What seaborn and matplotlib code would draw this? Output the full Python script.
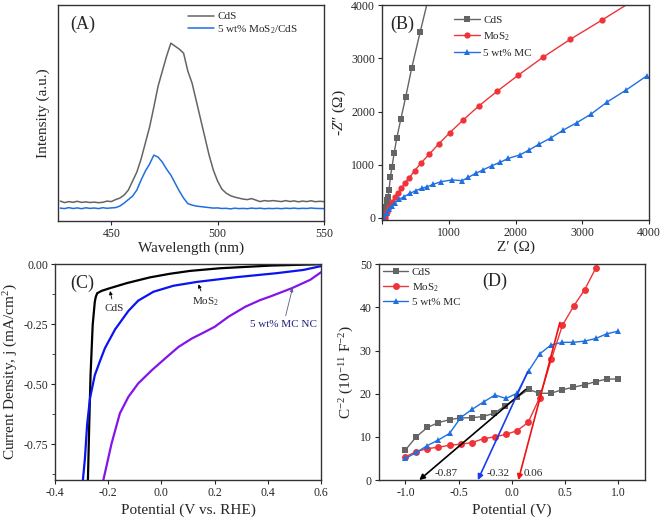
import matplotlib
matplotlib.use("Agg")
import matplotlib.pyplot as plt
import seaborn as sns
from matplotlib.ticker import MultipleLocator, AutoMinorLocator, FormatStrFormatter

# ---- (A) PL spectra ----
wavelength = [426, 428, 430, 432, 434, 436, 438, 440, 442, 444,
              446, 448, 450, 452, 454, 456, 458, 460, 462, 464,
              466, 468, 470, 472, 474, 476, 478, 480, 482, 484,
              486, 488, 490, 492, 494, 496, 498, 500, 502, 504,
              506, 508, 510, 512, 514, 516, 518, 520, 522, 524,
              526, 528, 530, 532, 534, 536, 538, 540, 542, 544,
              546, 548, 550]
pl_cds = [20, 18.5, 19.5, 18.8, 19.8, 18.7, 19.2, 18.6, 19, 18.4,
          18.8, 20, 19.5, 21.5, 23, 26, 31, 40, 49, 62,
          78, 94, 114, 135, 150, 165, 178, 175, 172, 168,
          150, 138, 120, 102, 84, 66, 51, 40, 32, 28,
          25.5, 24, 23, 22, 21.5, 22.5, 21, 19.5, 20.5, 20,
          20.5, 20, 19.5, 20.5, 19.6, 20.2, 19.3, 20, 19.5, 20.3,
          19.4, 19.8, 19.5]
pl_mc = [13, 12.5, 13.5, 12.6, 13.2, 12.4, 13.3, 12.7, 13.1, 12.5,
         13.4, 12.8, 13.2, 13.5, 15, 18, 21.5, 25, 31, 41,
         50, 57, 66, 64, 59, 52, 46, 38, 30, 23,
         17.5, 16, 15, 14.5, 14, 13.5, 13, 13.2, 12.6, 12.8,
         12.2, 12.9, 12.5, 12.7, 12.4, 13, 12.6, 12.9, 12.4, 12.7,
         12.5, 12.8, 12.4, 12.9, 12.6, 13, 12.5, 12.8, 12.6, 13.1,
         12.7, 12.6, 12.5]

# ---- (B) Nyquist ----
zre_cds = [30, 45, 60, 70, 80, 90, 105, 125, 150, 180, 220, 280, 355, 445, 569, 700]
zim_cds = [40, 110, 200, 300, 340, 400, 526, 776, 964, 1215, 1497, 1853, 2278, 2823, 3487, 4160]
zre_mos2 = [45, 50, 70, 110, 155, 195, 240, 289, 339, 409, 489, 589, 709, 849, 1014,
            1213, 1448, 1727, 2042, 2407, 2816, 3291, 3780]
zim_mos2 = [-6, 38, 119, 213, 306, 388, 463, 557, 651, 757, 889, 1039, 1202, 1390, 1602,
            1840, 2103, 2385, 2686, 3018, 3356, 3718, 4100]
zre_mc = [30, 70, 105, 145, 195, 255, 330, 419, 505, 595, 679, 769, 884, 1049, 1203, 1293,
          1404, 1518, 1643, 1768, 1892, 2062, 2202, 2357, 2532, 2716, 2916, 3131, 3376,
          3655, 3966]
zim_mc = [38, 100, 163, 225, 287, 351, 400, 463, 513, 557, 588, 633, 682, 714, 701, 764,
          839, 907, 982, 1046, 1121, 1183, 1277, 1390, 1508, 1653, 1790, 1953, 2184,
          2404, 2672]

# ---- (C) LSV ----
v_cds = [-0.277, -0.271, -0.266, -0.258, -0.250, -0.246, -0.241, -0.224, -0.193, -0.130,
         -0.043, 0.032, 0.108, 0.22, 0.408, 0.6]
j_cds = [-0.95, -0.67, -0.461, -0.253, -0.156, -0.135, -0.121, -0.111, -0.100, -0.079,
         -0.055, -0.04, -0.028, -0.017, -0.006, 0.0]
v_mos2 = [-0.299, -0.287, -0.279, -0.268, -0.25, -0.231, -0.212, -0.174, -0.124, -0.087,
          -0.030, 0.045, 0.133, 0.283, 0.433, 0.533, 0.6]
j_mos2 = [-0.95, -0.808, -0.67, -0.558, -0.4625, -0.405, -0.35, -0.272, -0.195, -0.152,
          -0.115, -0.09, -0.074, -0.054, -0.0375, -0.024, -0.008]
v_mc = [-0.222, -0.218, -0.187, -0.156, -0.124, -0.087, -0.036, 0.014, 0.064, 0.114,
        0.164, 0.2, 0.252, 0.314, 0.37, 0.408, 0.49, 0.559, 0.6]
j_mc = [-0.95, -0.9, -0.747, -0.622, -0.553, -0.497, -0.442, -0.393, -0.345, -0.310,
        -0.282, -0.261, -0.219, -0.178, -0.15, -0.135, -0.10, -0.065, -0.033]

# ---- (D) Mott-Schottky ----
ms_v_cds = [-1.0, -0.897, -0.793, -0.69, -0.586, -0.483, -0.376, -0.273, -0.166, -0.063,
            0.05, 0.157, 0.257, 0.364, 0.47, 0.577, 0.686, 0.787, 0.89, 1.0]
ms_c_cds = [6.96, 10.05, 12.2, 13.3, 14.0, 14.4, 14.45, 14.7, 15.5, 17.2,
            19.2, 21.0, 20.1, 20.1, 20.9, 21.5, 22.1, 22.8, 23.4, 23.4]
ms_v_mos2 = [-1.0, -0.897, -0.793, -0.69, -0.58, -0.48, -0.373, -0.266, -0.16, -0.056,
             0.047, 0.153, 0.26, 0.37, 0.473, 0.58, 0.683, 0.787]
ms_c_mos2 = [5.4, 6.6, 7.3, 7.6, 8.1, 8.3, 8.7, 9.6, 10.0, 10.6,
             11.4, 13.4, 19.1, 28.0, 35.8, 40.3, 44.1, 49.1]
ms_v_mc = [-1.0, -0.897, -0.793, -0.69, -0.586, -0.48, -0.373, -0.266, -0.16, -0.056,
           0.047, 0.157, 0.26, 0.367, 0.473, 0.577, 0.686, 0.787, 0.893, 1.0]
ms_c_mc = [5.0, 6.4, 8.0, 9.3, 10.8, 14.5, 16.4, 18.1, 19.7, 18.9,
           20.1, 25.3, 29.2, 31.3, 31.9, 31.9, 32.2, 32.8, 33.9, 34.5]
fb_values = [-0.87, -0.32, 0.06]
tangent_top_v = [0.13, 0.148, 0.45]
tangent_top_c = [21.0, 25.1, 36.5]

sns.set_style("ticks")
plt.rcParams['font.family'] = ['Liberation Serif', 'DejaVu Serif']
plt.rcParams['mathtext.fontset'] = 'custom'
plt.rcParams['mathtext.rm'] = 'Liberation Serif'
plt.rcParams['mathtext.it'] = 'Liberation Serif:italic'
plt.rcParams['mathtext.bf'] = 'Liberation Serif:bold'
plt.rcParams['axes.unicode_minus'] = False
plt.rcParams['xtick.direction'] = 'out'
plt.rcParams['ytick.direction'] = 'out'
plt.rcParams['axes.edgecolor'] = '#333333'
plt.rcParams['axes.linewidth'] = 1.0

fig = plt.figure(figsize=(6.61, 5.19), dpi=100)
axA = fig.add_axes([0.088, 0.574, 0.402, 0.416])
axB = fig.add_axes([0.578, 0.576, 0.404, 0.414])
axC = fig.add_axes([0.083, 0.075, 0.403, 0.416])
axD = fig.add_axes([0.573, 0.075, 0.403, 0.416])

tick_fs = 8.5
lab_fs = 11
leg_fs = 8

gray = '#646464'
red = '#ef3338'
blue = '#1f6fe0'

# (A)
sns.lineplot(x=wavelength, y=pl_cds, ax=axA, color=gray, lw=1.1, label='CdS')
sns.lineplot(x=wavelength, y=pl_mc, ax=axA, color=blue, lw=1.1, label='5 wt% MoS$_2$/CdS')
axA.set_xlim(425, 550)
axA.set_ylim(0, 216)
axA.set_yticks([])
axA.xaxis.set_major_locator(MultipleLocator(50))
axA.set_xlabel('Wavelength (nm)', fontsize=lab_fs, labelpad=1)
axA.set_ylabel('Intensity (a.u.)', fontsize=lab_fs, labelpad=6)
axA.text(0.093, 0.912, '(A)', transform=axA.transAxes, fontsize=13, ha='center', va='center')
axA.legend(loc='upper left', bbox_to_anchor=(0.49, 0.97), frameon=False, fontsize=leg_fs,
           handlelength=2.3, handletextpad=0.3, labelspacing=0.15, borderpad=0, borderaxespad=0)

# (B)
sns.lineplot(x=zre_cds, y=zim_cds, ax=axB, color=gray, lw=1.0, marker='s', markersize=4,
             markeredgewidth=0, label='CdS')
sns.lineplot(x=zre_mos2, y=zim_mos2, ax=axB, color=red, lw=1.0, marker='o', markersize=4.5,
             markeredgewidth=0, label='MoS$_2$')
sns.lineplot(x=zre_mc, y=zim_mc, ax=axB, color=blue, lw=1.0, marker='^', markersize=4.5,
             markeredgewidth=0, label='5 wt% MC')
axB.set_xlim(0, 4000)
axB.set_ylim(-40, 4000)
axB.set_xticks([0, 1000, 2000, 3000, 4000])
axB.set_xticklabels(['', '1000', '2000', '3000', '4000'])
axB.set_yticks([0, 1000, 2000, 3000, 4000])
axB.set_xlabel('Z\u2032 (\u03a9)', fontsize=lab_fs, labelpad=1)
axB.set_ylabel('-$\\mathit{Z}$\u2033 (\u03a9)', fontsize=lab_fs, labelpad=2)
axB.text(0.074, 0.911, '(B)', transform=axB.transAxes, fontsize=13, ha='center', va='center')
axB.legend(loc='upper left', bbox_to_anchor=(0.27, 0.955), frameon=False, fontsize=leg_fs,
           handlelength=2.3, handletextpad=0.3, labelspacing=0.5, borderpad=0, borderaxespad=0)

# (C)
sns.lineplot(x=v_cds, y=j_cds, ax=axC, color='black', lw=1.6, sort=False)
sns.lineplot(x=v_mos2, y=j_mos2, ax=axC, color='#0a14f0', lw=1.6, sort=False)
sns.lineplot(x=v_mc, y=j_mc, ax=axC, color='#8414ea', lw=1.6, sort=False)
axC.set_xlim(-0.4, 0.6)
axC.set_ylim(-0.9, 0.0)
axC.xaxis.set_major_locator(MultipleLocator(0.2))
axC.yaxis.set_major_locator(MultipleLocator(0.25))
axC.yaxis.set_minor_locator(AutoMinorLocator(2))
axC.xaxis.set_major_formatter(FormatStrFormatter('%.1f'))
axC.yaxis.set_major_formatter(FormatStrFormatter('%.2f'))
axC.set_xlabel('Potential (V vs. RHE)', fontsize=lab_fs, labelpad=3)
axC.set_ylabel('Current Density, j (mA/cm$^2$)', fontsize=lab_fs, labelpad=2)
axC.text(0.103, 0.912, '(C)', transform=axC.transAxes, fontsize=13, ha='center', va='center')
arrow_k = dict(arrowstyle='-|>', lw=0.6, mutation_scale=5, color='black', shrinkA=1, shrinkB=0)
axC.annotate('CdS', xy=(-0.193, -0.112), xytext=(-0.178, -0.183), fontsize=leg_fs,
             ha='center', va='center', arrowprops=arrow_k)
axC.annotate('MoS$_2$', xy=(0.139, -0.084), xytext=(0.164, -0.157), fontsize=leg_fs,
             ha='center', va='center', arrowprops=arrow_k)
axC.annotate('5 wt% MC NC', xy=(0.492, -0.10), xytext=(0.458, -0.253), fontsize=leg_fs,
             ha='center', va='center', color='#1c1c7a',
             arrowprops=dict(arrowstyle='-|>', lw=0.6, mutation_scale=5, color='#5a5a8c',
                             shrinkA=1, shrinkB=0))

# (D)
sns.lineplot(x=ms_v_cds, y=ms_c_cds, ax=axD, color=gray, lw=1.0, marker='s', markersize=4.5,
             markeredgewidth=0, label='CdS')
sns.lineplot(x=ms_v_mos2, y=ms_c_mos2, ax=axD, color=red, lw=1.0, marker='o', markersize=5,
             markeredgewidth=0, label='MoS$_2$')
sns.lineplot(x=ms_v_mc, y=ms_c_mc, ax=axD, color=blue, lw=1.0, marker='^', markersize=5,
             markeredgewidth=0, label='5 wt% MC')
for fb, tv, tc, col in zip(fb_values, tangent_top_v, tangent_top_c, ['black', '#1a3cf0', '#f01010']):
    axD.annotate('', xy=(fb, 0), xytext=(tv, tc),
                 arrowprops=dict(arrowstyle='-|>', lw=1.2, mutation_scale=8, color=col,
                                 shrinkA=0, shrinkB=0))
axD.text(-0.617, 1.55, '-0.87', fontsize=leg_fs, ha='center', va='center')
axD.text(-0.133, 1.55, '-0.32', fontsize=leg_fs, ha='center', va='center')
axD.text(0.2, 1.55, '0.06', fontsize=leg_fs, ha='center', va='center')
axD.set_xlim(-1.25, 1.25)
axD.set_ylim(0, 50)
axD.xaxis.set_major_locator(MultipleLocator(0.5))
axD.yaxis.set_major_locator(MultipleLocator(10))
axD.xaxis.set_major_formatter(FormatStrFormatter('%.1f'))
axD.set_xlabel('Potential (V)', fontsize=lab_fs, labelpad=3)
axD.set_ylabel('C$^{-2}$ (10$^{-11}$ F$^{-2}$)', fontsize=lab_fs, labelpad=3)
axD.text(0.436, 0.921, '(D)', transform=axD.transAxes, fontsize=13, ha='center', va='center')
axD.legend(loc='upper left', bbox_to_anchor=(0.015, 0.985), frameon=False, fontsize=leg_fs,
           handlelength=2.3, handletextpad=0.3, labelspacing=0.35, borderpad=0, borderaxespad=0)

for ax in [axA, axB, axC, axD]:
    ax.tick_params(labelsize=tick_fs, length=3, width=0.8, pad=2)
    ax.tick_params(which='minor', length=2, width=0.6)
    for s in ax.spines.values():
        s.set_visible(True)

fig.savefig('out.png', dpi=100)
